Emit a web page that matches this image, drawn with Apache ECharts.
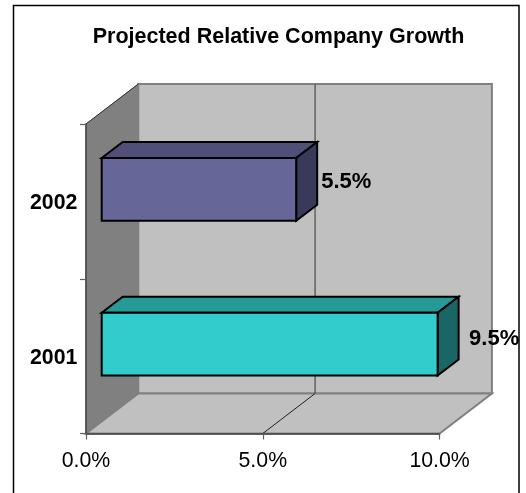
<!DOCTYPE html>
<html><head><meta charset="utf-8">
<style>html,body{margin:0;padding:0;background:#fff}#c{width:526px;height:493px}</style>
<script src="https://cdn.jsdelivr.net/npm/echarts@6/dist/echarts.min.js"></script>
</head><body><div id="c"></div>
<script>
const titleText = 'Projected Relative Company Growth';
const categories = ['2001', '2002'];
const growthValues = [9.5, 5.5];
const valueTicks = { min: 0, max: 10, interval: 5 };
const faceColors = [
  { front: '#33CCCC', top: '#269999', side: '#1A6666' },
  { front: '#666699', top: '#4F4F77', side: '#39395A' }
];
const labelGaps = [{ dx: 31.5, dy: -5.5 }, { dx: 25, dy: -7 }];
const FONT = '"Liberation Sans", Arial, sans-serif';
const WALL = { dx: 52.3, dy: -40 };
const BAR_NEAR = { dx: 15.7, dy: -12 };
const BAR_DEPTH = { dx: 21, dy: -16 };
const BAR_RATIO = 0.405;

const chart = echarts.init(document.getElementById('c'), null, { renderer: 'canvas' });

function poly(points, fill, stroke, lw) {
  return { type: 'polygon', shape: { points }, style: { fill, stroke, lineWidth: lw, lineJoin: 'miter' } };
}
function line(a, b, stroke, lw) {
  return { type: 'line', shape: { x1: a[0], y1: a[1], x2: b[0], y2: b[1] }, style: { stroke, lineWidth: lw } };
}

function renderWalls(params, api) {
  const cs = params.coordSys;
  const x0 = cs.x, x1 = cs.x + cs.width, yT = cs.y, yB = cs.y + cs.height;
  const d = WALL;
  const mid = api.coord([api.value(0), 0])[0];
  return { type: 'group', children: [
    poly([[x0 + d.dx, yT + d.dy], [x1 + d.dx, yT + d.dy], [x1 + d.dx, yB + d.dy], [x0 + d.dx, yB + d.dy]], '#C0C0C0', '#808080', 2),
    poly([[x0, yT], [x0 + d.dx, yT + d.dy], [x0 + d.dx, yB + d.dy], [x0, yB]], '#808080', '#808080', 1),
    poly([[x0, yB], [x0 + d.dx, yB + d.dy], [x1 + d.dx, yB + d.dy], [x1, yB]], '#C0C0C0', '#808080', 2),
    line([x0, yT], [x0 + d.dx, yT + d.dy], '#303030', 1),
    line([mid + d.dx, yT + d.dy], [mid + d.dx, yB + d.dy], '#606060', 1.5),
    line([mid, yB], [mid + d.dx, yB + d.dy], '#202020', 1)
  ] };
}

function renderBar(params, api) {
  const v = api.value(0), idx = api.value(1);
  const end = api.coord([v, idx]), start = api.coord([0, idx]);
  const h = api.size([0, 1])[1] * BAR_RATIO;
  const c = faceColors[idx];
  const n = BAR_NEAR, b = BAR_DEPTH;
  const L = start[0] + n.dx, R = end[0] + n.dx;
  const T = end[1] - h / 2 + n.dy, B = end[1] + h / 2 + n.dy;
  const gap = labelGaps[idx];
  return { type: 'group', children: [
    poly([[L, T], [L + b.dx, T + b.dy], [R + b.dx, T + b.dy], [R, T]], c.top, '#000', 2),
    poly([[R, T], [R + b.dx, T + b.dy], [R + b.dx, B + b.dy], [R, B]], c.side, '#000', 2),
    poly([[L, T], [R, T], [R, B], [L, B]], c.front, '#000', 2),
    { type: 'text', style: {
        x: R + gap.dx, y: (T + B) / 2 + gap.dy,
        text: v.toFixed(1) + '%', fill: '#000',
        font: 'bold 22px ' + FONT, align: 'left', verticalAlign: 'middle' } }
  ] };
}

chart.setOption({
  animation: false,
  backgroundColor: '#fff',
  title: { text: titleText, left: 273.5, top: 21, textAlign: 'center',
    textStyle: { fontFamily: FONT, fontSize: 21.5, fontWeight: 'bold', color: '#000' } },
  graphic: [{ type: 'rect', z: -1, silent: true, shape: { x: 13.5, y: 5.5, width: 505.5, height: 520 },
    style: { fill: 'transparent', stroke: '#000', lineWidth: 1.5 } }],
  grid: { left: 86, top: 124, width: 353.6, height: 309.5, containLabel: false },
  xAxis: { type: 'value', min: valueTicks.min, max: valueTicks.max, interval: valueTicks.interval, z: 6,
    axisLine: { show: true, lineStyle: { color: '#404040', width: 1.5 } },
    axisTick: { show: true, length: 6, lineStyle: { color: '#606060', width: 1.2 } },
    splitLine: { show: false },
    axisLabel: { margin: 17, color: '#000', fontFamily: FONT, fontSize: 21.3,
      formatter: v => v.toFixed(1) + '%', hideOverlap: false, showMinLabel: true, showMaxLabel: true } },
  yAxis: { type: 'category', data: categories, z: 6,
    axisLine: { show: true, lineStyle: { color: '#404040', width: 1.5 } },
    axisTick: { show: true, length: 6, alignWithLabel: false, lineStyle: { color: '#606060', width: 1.2 } },
    splitLine: { show: false },
    axisLabel: { margin: 56, align: 'left', verticalAlign: 'top', lineHeight: 24, padding: [-10, 0, 0, 0], color: '#000', fontFamily: FONT, fontSize: 21.3, fontWeight: 'bold' } },
  series: [
    { type: 'custom', z: 1, silent: true, clip: false, renderItem: renderWalls,
      data: [[valueTicks.interval, 0]], encode: { x: 0, y: 1 } },
    { type: 'custom', z: 3, silent: true, clip: false, renderItem: renderBar,
      data: growthValues.map((v, i) => [v, i]), encode: { x: 0, y: 1 } }
  ]
});
</script></body></html>
